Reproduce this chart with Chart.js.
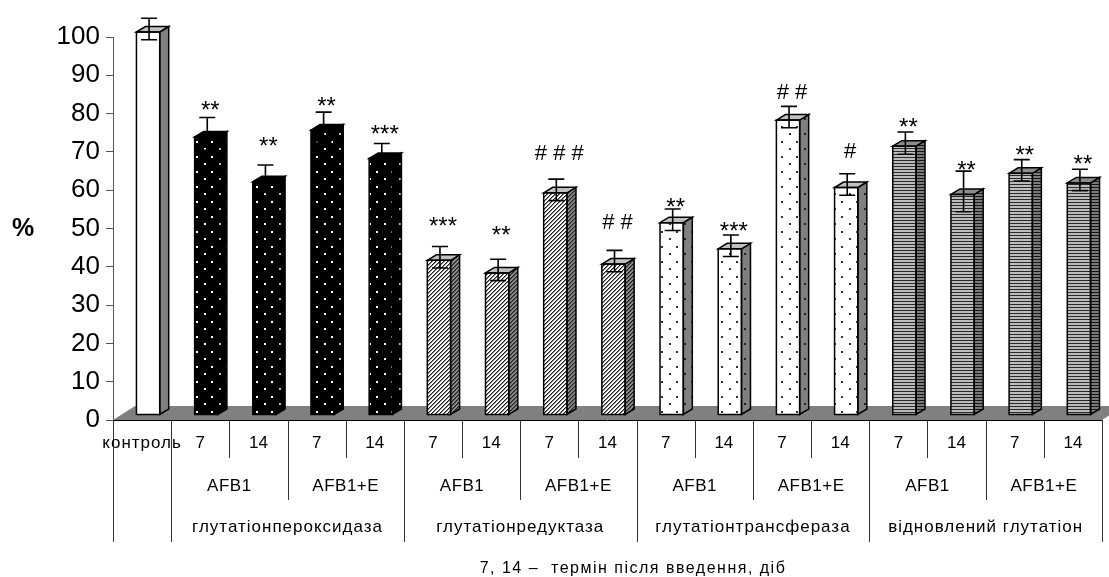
<!DOCTYPE html>
<html lang="uk">
<head>
<meta charset="utf-8">
<title>Глутатіонова система: активність, % до контролю</title>
<script src="https://cdn.jsdelivr.net/npm/chart.js@4.4.1/dist/chart.umd.min.js"></script>
<style>
  html, body { margin: 0; padding: 0; background: #fff; }
  canvas { display: block; }
</style>
</head>
<body>
<canvas id="c" width="1109" height="577"></canvas>
<script>
// ---- data -------------------------------------------------------------
const controlLabel = 'контроль';
const enzymes = ['глутатіонпероксидаза', 'глутатіонредуктаза', 'глутатіонтрансфераза', 'відновлений глутатіон'];
const treatments = ['AFB1', 'AFB1+E'];
const days = ['7', '14'];

// % of control: control, then enzyme × treatment × day
const percent = [100, 72.6, 60.9, 74.4, 67, 40.4, 37.1, 58, 39.4, 50.2, 43.4, 77, 59.4, 70.2, 57.6, 63.1, 60.6];
const sem     = [2.8, 4.3, 3.6, 3.9, 3.1, 2.8, 2.8, 2.8, 2.8, 2.8, 2.8, 2.8, 2.8, 2.9, 5.3, 2.8, 2.8];
// significance marks and the level (in %) where each one is written
const marks     = ['', '**', '**', '**', '***', '***', '**', '# # #', '# #', '**', '***', '# #', '#', '**', '**', '**', '**'];
const markLevel = [null, 81.9, 72.5, 83.1, 75.8, 51.7, 49.3, 69.9, 51.9, 56.6, 50.4, 85.7, 70.3, 77.5, 66.3, 70.3, 67.9];

const yTickValues = [0, 10, 20, 30, 40, 50, 60, 70, 80, 90, 100];
const axisTitle = '%';
const footnote = '7, 14 –  термін після введення, діб';

// ---- derived category structure ----------------------------------------
const labels = [controlLabel];
const groupOf = [0];
enzymes.forEach((e, ei) => treatments.forEach(() => days.forEach(d => { labels.push(d); groupOf.push(ei + 1); })));

// ---- styling ------------------------------------------------------------
const FONT = '"Liberation Sans", Arial, Helvetica, sans-serif';
const DEPTH_X = 9, DEPTH_Y = -5.5;     // bar depth (side / top faces)
const SHIFT_X = 6, SHIFT_Y = -5;       // bars stand in the middle of the floor
const FLOOR_DX = 22, FLOOR_DY = -14;   // floor depth

const mainCtx = document.getElementById('c').getContext('2d');
function pattern(w, h, draw) {
  const t = document.createElement('canvas');
  t.width = w; t.height = h;
  draw(t.getContext('2d'));
  return mainCtx.createPattern(t, 'repeat');
}
function dots(bg, fg) {
  return pattern(15, 15, g => {
    g.fillStyle = bg; g.fillRect(0, 0, 15, 15);
    g.fillStyle = fg; g.fillRect(3, 3, 2, 2); g.fillRect(10, 11, 2, 2);
  });
}
function hatch(bg, fg) {
  return pattern(4, 4, g => {
    g.fillStyle = bg; g.fillRect(0, 0, 4, 4);
    g.fillStyle = fg;
    for (let i = 0; i < 4; i++) g.fillRect(i, 3 - i, 1, 1);
    g.globalAlpha = 0.55;
    for (let i = 0; i < 4; i++) g.fillRect(i, (4 - i) % 4, 1, 1);
  });
}
function stripes(light, dark) {
  return pattern(2, 3, g => {
    g.fillStyle = light; g.fillRect(0, 0, 2, 3);
    g.fillStyle = dark; g.fillRect(0, 0, 2, 1);
  });
}

// front / side / top fills for control and each enzyme group
const groupStyle = [
  { front: '#ffffff', side: '#808080', top: '#c0c0c0' },
  { front: dots('#000000', '#ffffff'), side: dots('#000000', '#bbbbbb'), top: '#000000' },
  { front: hatch('#ffffff', '#202020'), side: hatch('#8a8a8a', '#202020'), top: '#c0c0c0' },
  { front: dots('#ffffff', '#333333'), side: dots('#808080', '#222222'), top: '#c0c0c0' },
  { front: stripes('#bcbcbc', '#2a2a2a'), side: stripes('#7a7a7a', '#151515'), top: '#8c8c8c' }
];

// ---- 3D faces, floor, error bars, marks, category table -----------------
const pseudo3d = {
  id: 'pseudo3d',
  beforeDatasetsDraw(chart) {
    const { ctx, chartArea: a } = chart;
    ctx.save();
    ctx.fillStyle = '#808080';
    ctx.beginPath();
    ctx.moveTo(a.left, a.bottom);
    ctx.lineTo(a.left + FLOOR_DX, a.bottom + FLOOR_DY);
    ctx.lineTo(a.right + FLOOR_DX, a.bottom + FLOOR_DY);
    ctx.lineTo(a.right, a.bottom);
    ctx.closePath();
    ctx.fill();
    ctx.restore();
    ctx.save();
    ctx.translate(SHIFT_X, SHIFT_Y);
  },
  afterDatasetsDraw(chart) {
    const { ctx } = chart;
    const y = chart.scales.y;
    const meta = chart.getDatasetMeta(0);
    ctx.lineWidth = 1.5;
    ctx.strokeStyle = '#000';
    ctx.lineJoin = 'miter';
    meta.data.forEach((bar, i) => {
      const st = groupStyle[groupOf[i]];
      const l = bar.x - bar.width / 2, r = bar.x + bar.width / 2;
      const t = bar.y, b = bar.base;
      // side face
      ctx.beginPath();
      ctx.moveTo(r, t); ctx.lineTo(r + DEPTH_X, t + DEPTH_Y);
      ctx.lineTo(r + DEPTH_X, b + DEPTH_Y); ctx.lineTo(r, b); ctx.closePath();
      ctx.fillStyle = st.side; ctx.fill(); ctx.stroke();
      // top face
      ctx.beginPath();
      ctx.moveTo(l, t); ctx.lineTo(l + DEPTH_X, t + DEPTH_Y);
      ctx.lineTo(r + DEPTH_X, t + DEPTH_Y); ctx.lineTo(r, t); ctx.closePath();
      ctx.fillStyle = st.top; ctx.fill(); ctx.stroke();
      // front outline
      ctx.strokeRect(l, t, r - l, b - t);
    });
    // error bars
    ctx.lineWidth = 1.6;
    meta.data.forEach((bar, i) => {
      const cx = bar.x + 1;
      const hi = y.getPixelForValue(percent[i] + sem[i]) - 3;
      const lo = y.getPixelForValue(percent[i] - sem[i]) - 3;
      ctx.beginPath();
      ctx.moveTo(cx, hi); ctx.lineTo(cx, lo);
      ctx.moveTo(cx - 8, hi); ctx.lineTo(cx + 8, hi);
      ctx.moveTo(cx - 8, lo); ctx.lineTo(cx + 8, lo);
      ctx.stroke();
    });
    ctx.restore();

    // significance marks
    ctx.save();
    ctx.fillStyle = '#000';
    ctx.textAlign = 'center';
    ctx.textBaseline = 'alphabetic';
    marks.forEach((m, i) => {
      if (!m) return;
      const star = m.includes('*');
      const fs = star ? 24 : 22;
      ctx.font = fs + 'px ' + FONT;
      const cx = chart.scales.x.getPixelForValue(i) + 10;
      const cy = y.getPixelForValue(markLevel[i]);
      ctx.fillText(m, cx, cy + (star ? 0.5 : 0.35) * fs);
    });
    ctx.restore();
  },
  afterDraw(chart) {
    const { ctx, chartArea: a } = chart;
    const n = labels.length;
    const w = (a.right - a.left) / n;
    const row1 = a.bottom + 23, row2 = a.bottom + 66, row3 = a.bottom + 107;
    const end1 = a.bottom + 38, end2 = a.bottom + 80, end3 = a.bottom + 122;
    ctx.save();
    // front edge of the floor
    ctx.strokeStyle = '#000';
    ctx.lineWidth = 1;
    ctx.beginPath();
    ctx.moveTo(a.left, a.bottom + 0.5); ctx.lineTo(a.right, a.bottom + 0.5);
    ctx.stroke();
    // table separators
    ctx.strokeStyle = '#333';
    ctx.beginPath();
    for (let k = 0; k <= n; k++) {
      let end;
      if (k <= 1 || (k - 1) % 4 === 0) end = end3;
      else if ((k - 1) % 2 === 0) end = end2;
      else end = end1;
      const x = Math.round(a.left + k * w) + 0.5;
      ctx.moveTo(x, a.bottom); ctx.lineTo(x, end);
    }
    ctx.stroke();
    // labels
    ctx.fillStyle = '#000';
    ctx.textAlign = 'center';
    ctx.textBaseline = 'middle';
    ctx.font = '17px ' + FONT;
    ctx.letterSpacing = '0px';
    labels.forEach((lab, k) => {
      ctx.letterSpacing = k === 0 ? '1px' : '0px';
      ctx.fillText(lab, a.left + (k + 0.5) * w, row1);
    });
    ctx.letterSpacing = '0.5px';
    enzymes.forEach((e, ei) => {
      treatments.forEach((tr, ti) => {
        const k0 = 1 + ei * 4 + ti * 2;
        ctx.fillText(tr, a.left + (k0 + 1) * w, row2);
      });
    });
    ctx.letterSpacing = '1px';
    enzymes.forEach((e, ei) => {
      ctx.fillText(e, a.left + (1 + ei * 4 + 2) * w, row3);
    });
    // axis title
    ctx.letterSpacing = '0px';
    ctx.font = 'bold 25px ' + FONT;
    ctx.fillText(axisTitle, 23, 229);
    // footnote
    ctx.font = '16px ' + FONT;
    ctx.letterSpacing = '1.5px';
    ctx.fillText(footnote, 633, 569);
    ctx.restore();
  }
};

new Chart(document.getElementById('c'), {
  type: 'bar',
  data: {
    labels,
    datasets: [{
      data: percent,
      backgroundColor: labels.map((_, i) => groupStyle[groupOf[i]].front),
      borderWidth: 0,
      barPercentage: 0.4,
      categoryPercentage: 1,
      clip: false
    }]
  },
  options: {
    responsive: false,
    animation: false,
    events: [],
    layout: { padding: { top: 37, right: 7, bottom: 157, left: 0 } },
    plugins: { legend: { display: false }, tooltip: { enabled: false } },
    scales: {
      x: { display: false, offset: true },
      y: {
        min: 0, max: 100,
        afterBuildTicks: s => { s.ticks = yTickValues.map(v => ({ value: v })); },
        afterFit: s => { s.width = 113; },
        border: { display: true, color: '#555', width: 1 },
        grid: { drawOnChartArea: false, drawTicks: true, tickLength: 7, color: '#555' },
        ticks: { color: '#000', padding: 6, font: { family: FONT, size: 26 } }
      }
    }
  },
  plugins: [pseudo3d]
});
</script>
</body>
</html>
